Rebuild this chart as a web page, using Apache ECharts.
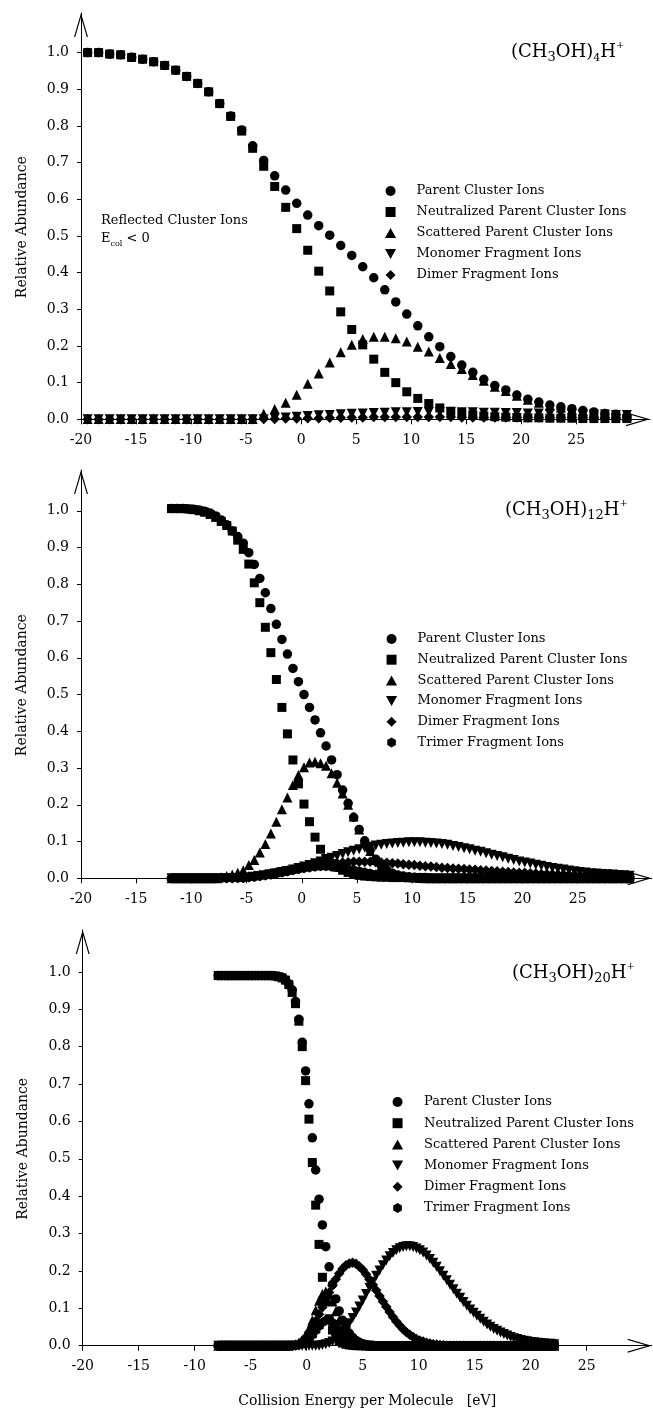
<!DOCTYPE html>
<html>
<head>
<meta charset="utf-8">
<title>(CH3OH)nH+ collision products</title>
<script src="https://cdn.jsdelivr.net/npm/echarts@6/dist/echarts.min.js"></script>
<style>
  html, body { margin: 0; padding: 0; background: #fff; }
  #chart { width: 653px; height: 1414px; }
</style>
</head>
<body>
<div id="chart"></div>
<script>
// series names, shared by the three panels
const seriesNames = [
    'Parent Cluster Ions',
    'Neutralized Parent Cluster Ions',
    'Scattered Parent Cluster Ions',
    'Monomer Fragment Ions',
    'Dimer Fragment Ions',
    'Trimer Fragment Ions'
]
const xTicks = [-20, -15, -10, -5, 0, 5, 10, 15, 20, 25]
const yTicks = [0, 0.1, 0.2, 0.3, 0.4, 0.5, 0.6, 0.7, 0.8, 0.9, 1.0]

// ---- (CH3OH)4H+ ----
const x1 = [-19.4, -18.4, -17.4, -16.4, -15.4, -14.4, -13.4, -12.4, -11.4, -10.4,
    -9.4, -8.4, -7.4, -6.4, -5.4, -4.4, -3.4, -2.4, -1.4, -0.4,
    0.6, 1.6, 2.6, 3.6, 4.6, 5.6, 6.6, 7.6, 8.6, 9.6,
    10.6, 11.6, 12.6, 13.6, 14.6, 15.6, 16.6, 17.6, 18.6, 19.6,
    20.6, 21.6, 22.6, 23.6, 24.6, 25.6, 26.6, 27.6, 28.6, 29.6]
const parent1 = [1.000, 1.000, 0.996, 0.994, 0.987, 0.982, 0.975, 0.965, 0.952, 0.935,
    0.916, 0.893, 0.861, 0.827, 0.789, 0.746, 0.706, 0.664, 0.625, 0.589,
    0.557, 0.528, 0.502, 0.474, 0.447, 0.416, 0.386, 0.353, 0.320, 0.287,
    0.255, 0.225, 0.198, 0.171, 0.148, 0.128, 0.109, 0.092, 0.080, 0.066,
    0.055, 0.047, 0.039, 0.034, 0.029, 0.024, 0.020, 0.016, 0.014, 0.009]
const neutral1 = [1.000, 1.000, 0.996, 0.994, 0.987, 0.982, 0.975, 0.965, 0.952, 0.935,
    0.916, 0.893, 0.861, 0.826, 0.786, 0.739, 0.690, 0.635, 0.578, 0.520,
    0.461, 0.404, 0.350, 0.293, 0.245, 0.203, 0.164, 0.128, 0.100, 0.075,
    0.057, 0.043, 0.031, 0.022, 0.016, 0.012, 0.009, 0.007, 0.006, 0.005,
    0.004, 0.004, 0.003, 0.003, 0.003, 0.002, 0.002, 0.002, 0.002, 0.002]
const scatter1 = [0.001, 0.001, 0.001, 0.001, 0.001, 0.001, 0.001, 0.001, 0.001, 0.001,
    0.001, 0.001, 0.001, 0.001, 0.001, 0.001, 0.015, 0.028, 0.045, 0.067,
    0.097, 0.125, 0.155, 0.183, 0.203, 0.219, 0.225, 0.225, 0.221, 0.212,
    0.198, 0.185, 0.167, 0.151, 0.137, 0.121, 0.105, 0.089, 0.077, 0.064,
    0.053, 0.045, 0.037, 0.032, 0.027, 0.022, 0.018, 0.015, 0.012, 0.008]
const mono1 = [0, 0, 0, 0, 0, 0, 0, 0, 0, 0,
    0, 0, 0, 0, 0, 0, 0, 0.003, 0.005, 0.007,
    0.009, 0.011, 0.012, 0.014, 0.015, 0.016, 0.017, 0.018, 0.019, 0.019,
    0.020, 0.020, 0.020, 0.020, 0.019, 0.019, 0.018, 0.018, 0.017, 0.017,
    0.016, 0.016, 0.015, 0.015, 0.014, 0.014, 0.013, 0.013, 0.012, 0.012]
const dimer1 = [0, 0, 0, 0, 0, 0, 0, 0, 0, 0,
    0, 0, 0, 0, 0, 0, 0.001, 0.001, 0.002, 0.002,
    0.003, 0.003, 0.004, 0.004, 0.005, 0.005, 0.006, 0.006, 0.006, 0.006,
    0.006, 0.006, 0.006, 0.006, 0.005, 0.005, 0.005, 0.005, 0.005, 0.005,
    0.005, 0.005, 0.005, 0.005, 0.005, 0.004, 0.004, 0.004, 0.004, 0.004]

// ---- (CH3OH)12H+ ----
const x2 = [-11.8, -11.3, -10.8, -10.3, -9.8, -9.3, -8.8, -8.3, -7.8, -7.3,
    -6.8, -6.3, -5.8, -5.3, -4.8, -4.3, -3.8, -3.3, -2.8, -2.3,
    -1.8, -1.3, -0.8, -0.3, 0.2, 0.7, 1.2, 1.7, 2.2, 2.7,
    3.2, 3.7, 4.2, 4.7, 5.2, 5.7, 6.2, 6.7, 7.2, 7.7,
    8.2, 8.7, 9.2, 9.7, 10.2, 10.7, 11.2, 11.7, 12.2, 12.7,
    13.2, 13.7, 14.2, 14.7, 15.2, 15.7, 16.2, 16.7, 17.2, 17.7,
    18.2, 18.7, 19.2, 19.7, 20.2, 20.7, 21.2, 21.7, 22.2, 22.7,
    23.2, 23.7, 24.2, 24.7, 25.2, 25.7, 26.2, 26.7, 27.2, 27.7,
    28.2, 28.7, 29.2, 29.7]
const parent2 = [1.006, 1.006, 1.006, 1.005, 1.004, 1.002, 0.999, 0.994, 0.986, 0.975,
    0.962, 0.945, 0.930, 0.912, 0.886, 0.854, 0.816, 0.777, 0.734, 0.691,
    0.650, 0.610, 0.571, 0.535, 0.500, 0.465, 0.431, 0.396, 0.360, 0.322,
    0.282, 0.240, 0.204, 0.166, 0.133, 0.102, 0.077, 0.052, 0.035, 0.022,
    0.014, 0.009, 0.006, 0.004, 0.003, 0.002, 0.002, 0.001, 0, 0,
    0, 0, 0, 0, 0, 0, 0, 0, 0, 0,
    0, 0, 0, 0, 0, 0, 0, 0, 0, 0,
    0, 0, 0, 0, 0, 0, 0, 0, 0, 0,
    0, 0, 0, 0]
const neutral2 = [1.006, 1.006, 1.006, 1.005, 1.003, 1.000, 0.996, 0.990, 0.982, 0.971,
    0.960, 0.945, 0.920, 0.895, 0.855, 0.804, 0.750, 0.683, 0.614, 0.541,
    0.465, 0.393, 0.322, 0.257, 0.202, 0.154, 0.112, 0.079, 0.054, 0.040,
    0.030, 0.022, 0.016, 0.011, 0.008, 0.006, 0.005, 0.004, 0.003, 0.003,
    0.002, 0.002, 0.002, 0.002, 0.002, 0.002, 0.001, 0.001, 0.001, 0.001,
    0.001, 0.001, 0.001, 0.001, 0.001, 0.001, 0.001, 0.001, 0.001, 0.001,
    0.001, 0.001, 0.001, 0.001, 0.001, 0.001, 0.001, 0.001, 0.001, 0.001,
    0.001, 0.001, 0.001, 0.001, 0.001, 0.001, 0.001, 0.001, 0.001, 0.001,
    0.001, 0.001, 0.001, 0.001]
const scatter2 = [0, 0, 0, 0, 0, 0, 0, 0, 0, 0.003,
    0.006, 0.010, 0.015, 0.022, 0.036, 0.050, 0.070, 0.093, 0.122, 0.154,
    0.188, 0.220, 0.254, 0.281, 0.302, 0.315, 0.317, 0.313, 0.306, 0.286,
    0.260, 0.231, 0.200, 0.168, 0.133, 0.100, 0.074, 0.050, 0.033, 0.021,
    0.013, 0.008, 0.005, 0.003, 0.002, 0.001, 0, 0, 0, 0,
    0, 0, 0, 0, 0, 0, 0, 0, 0, 0,
    0, 0, 0, 0, 0, 0, 0, 0, 0, 0,
    0, 0, 0, 0, 0, 0, 0, 0, 0, 0,
    0, 0, 0, 0]
const mono2 = [0, 0, 0, 0, 0, 0, 0, 0, 0, 0,
    0, 0, 0, 0, 0.002, 0.004, 0.006, 0.008, 0.011, 0.014,
    0.017, 0.020, 0.024, 0.028, 0.032, 0.036, 0.041, 0.046, 0.051, 0.056,
    0.061, 0.066, 0.071, 0.075, 0.079, 0.083, 0.086, 0.089, 0.091, 0.093,
    0.095, 0.096, 0.097, 0.098, 0.098, 0.098, 0.097, 0.096, 0.095, 0.093,
    0.091, 0.088, 0.085, 0.082, 0.079, 0.075, 0.072, 0.068, 0.064, 0.061,
    0.057, 0.053, 0.050, 0.046, 0.043, 0.040, 0.037, 0.034, 0.031, 0.028,
    0.026, 0.024, 0.021, 0.019, 0.017, 0.016, 0.014, 0.013, 0.012, 0.011,
    0.010, 0.009, 0.008, 0.007]
const dimer2 = [0, 0, 0, 0, 0, 0, 0, 0, 0, 0,
    0, 0, 0.002, 0.003, 0.005, 0.007, 0.009, 0.011, 0.014, 0.016,
    0.019, 0.021, 0.024, 0.026, 0.029, 0.031, 0.034, 0.036, 0.038, 0.040,
    0.041, 0.043, 0.044, 0.045, 0.045, 0.045, 0.045, 0.044, 0.043, 0.042,
    0.041, 0.040, 0.038, 0.037, 0.036, 0.034, 0.033, 0.032, 0.031, 0.029,
    0.028, 0.027, 0.026, 0.025, 0.024, 0.023, 0.022, 0.021, 0.020, 0.019,
    0.018, 0.017, 0.016, 0.015, 0.015, 0.014, 0.013, 0.012, 0.012, 0.011,
    0.010, 0.010, 0.009, 0.009, 0.008, 0.008, 0.007, 0.007, 0.006, 0.006,
    0.005, 0.005, 0.005, 0.004]
const trimer2 = [0, 0, 0, 0, 0, 0, 0, 0, 0, 0,
    0, 0, 0, 0, 0.002, 0.003, 0.005, 0.007, 0.009, 0.012,
    0.015, 0.018, 0.021, 0.024, 0.027, 0.029, 0.031, 0.032, 0.032, 0.031,
    0.030, 0.028, 0.026, 0.023, 0.020, 0.017, 0.014, 0.011, 0.009, 0.007,
    0.005, 0.004, 0.003, 0.002, 0.002, 0.001, 0, 0, 0, 0,
    0, 0, 0, 0, 0, 0, 0, 0, 0, 0,
    0, 0, 0, 0, 0, 0, 0, 0, 0, 0,
    0, 0, 0, 0, 0, 0, 0, 0, 0, 0,
    0, 0, 0, 0]

// ---- (CH3OH)20H+ ----
const x3 = [-7.9, -7.6, -7.3, -7.0, -6.7, -6.4, -6.1, -5.8, -5.5, -5.2,
    -4.9, -4.6, -4.3, -4.0, -3.7, -3.4, -3.1, -2.8, -2.5, -2.2,
    -1.9, -1.6, -1.3, -1.0, -0.7, -0.4, -0.1, 0.2, 0.5, 0.8,
    1.1, 1.4, 1.7, 2.0, 2.3, 2.6, 2.9, 3.2, 3.5, 3.8,
    4.1, 4.4, 4.7, 5.0, 5.3, 5.6, 5.9, 6.2, 6.5, 6.8,
    7.1, 7.4, 7.7, 8.0, 8.3, 8.6, 8.9, 9.2, 9.5, 9.8,
    10.1, 10.4, 10.7, 11.0, 11.3, 11.6, 11.9, 12.2, 12.5, 12.8,
    13.1, 13.4, 13.7, 14.0, 14.3, 14.6, 14.9, 15.2, 15.5, 15.8,
    16.1, 16.4, 16.7, 17.0, 17.3, 17.6, 17.9, 18.2, 18.5, 18.8,
    19.1, 19.4, 19.7, 20.0, 20.3, 20.6, 20.9, 21.2, 21.5, 21.8,
    22.1]
const parent3 = [0.990, 0.990, 0.990, 0.990, 0.990, 0.990, 0.990, 0.990, 0.990, 0.990,
    0.990, 0.990, 0.990, 0.990, 0.990, 0.990, 0.990, 0.989, 0.987, 0.984,
    0.978, 0.968, 0.952, 0.921, 0.873, 0.812, 0.735, 0.647, 0.556, 0.470,
    0.392, 0.323, 0.265, 0.211, 0.164, 0.125, 0.093, 0.068, 0.048, 0.033,
    0.022, 0.014, 0.009, 0.005, 0.003, 0.002, 0.001, 0, 0, 0,
    0, 0, 0, 0, 0, 0, 0, 0, 0, 0,
    0, 0, 0, 0, 0, 0, 0, 0, 0, 0,
    0, 0, 0, 0, 0, 0, 0, 0, 0, 0,
    0, 0, 0, 0, 0, 0, 0, 0, 0, 0,
    0, 0, 0, 0, 0, 0, 0, 0, 0, 0,
    0]
const neutral3 = [0.990, 0.990, 0.990, 0.990, 0.990, 0.990, 0.990, 0.990, 0.990, 0.990,
    0.990, 0.990, 0.990, 0.990, 0.990, 0.990, 0.990, 0.989, 0.987, 0.984,
    0.978, 0.966, 0.945, 0.915, 0.868, 0.800, 0.709, 0.606, 0.490, 0.376,
    0.271, 0.183, 0.118, 0.072, 0.042, 0.024, 0.013, 0.007, 0.004, 0.002,
    0.001, 0, 0, 0, 0, 0, 0, 0, 0, 0,
    0, 0, 0, 0, 0, 0, 0, 0, 0, 0,
    0, 0, 0, 0, 0, 0, 0, 0, 0, 0,
    0, 0, 0, 0, 0, 0, 0, 0, 0, 0,
    0, 0, 0, 0, 0, 0, 0, 0, 0, 0,
    0, 0, 0, 0, 0, 0, 0, 0, 0, 0,
    0]
const scatter3 = [0, 0, 0, 0, 0, 0, 0, 0, 0, 0,
    0, 0, 0, 0, 0, 0, 0, 0, 0, 0,
    0, 0, 0.002, 0.004, 0.008, 0.015, 0.027, 0.045, 0.068, 0.095,
    0.120, 0.138, 0.145, 0.138, 0.118, 0.092, 0.068, 0.048, 0.032, 0.021,
    0.013, 0.008, 0.005, 0.003, 0.001, 0, 0, 0, 0, 0,
    0, 0, 0, 0, 0, 0, 0, 0, 0, 0,
    0, 0, 0, 0, 0, 0, 0, 0, 0, 0,
    0, 0, 0, 0, 0, 0, 0, 0, 0, 0,
    0, 0, 0, 0, 0, 0, 0, 0, 0, 0,
    0, 0, 0, 0, 0, 0, 0, 0, 0, 0,
    0]
const mono3 = [0, 0, 0, 0, 0, 0, 0, 0, 0, 0,
    0, 0, 0, 0, 0, 0, 0, 0, 0, 0,
    0, 0, 0, 0, 0, 0, 0, 0, 0, 0,
    0, 0.002, 0.004, 0.007, 0.011, 0.017, 0.025, 0.035, 0.047, 0.060,
    0.074, 0.089, 0.105, 0.121, 0.138, 0.155, 0.171, 0.187, 0.201, 0.215,
    0.228, 0.239, 0.248, 0.255, 0.261, 0.264, 0.266, 0.266, 0.264, 0.260,
    0.255, 0.249, 0.241, 0.232, 0.222, 0.211, 0.199, 0.187, 0.175, 0.163,
    0.151, 0.139, 0.128, 0.117, 0.107, 0.097, 0.088, 0.080, 0.072, 0.064,
    0.057, 0.051, 0.045, 0.040, 0.035, 0.031, 0.027, 0.023, 0.020, 0.018,
    0.015, 0.013, 0.012, 0.010, 0.009, 0.008, 0.007, 0.006, 0.005, 0.005,
    0.004]
const dimer3 = [0, 0, 0, 0, 0, 0, 0, 0, 0, 0,
    0, 0, 0, 0, 0, 0, 0, 0, 0, 0,
    0, 0, 0, 0.002, 0.005, 0.012, 0.022, 0.035, 0.050, 0.066,
    0.084, 0.103, 0.122, 0.142, 0.161, 0.178, 0.193, 0.206, 0.215, 0.220,
    0.222, 0.219, 0.212, 0.203, 0.191, 0.177, 0.163, 0.148, 0.133, 0.118,
    0.104, 0.090, 0.077, 0.065, 0.054, 0.044, 0.036, 0.029, 0.023, 0.018,
    0.014, 0.011, 0.008, 0.006, 0.004, 0.003, 0.002, 0.001, 0, 0,
    0, 0, 0, 0, 0, 0, 0, 0, 0, 0,
    0, 0, 0, 0, 0, 0, 0, 0, 0, 0,
    0, 0, 0, 0, 0, 0, 0, 0, 0, 0,
    0]
const trimer3 = [0, 0, 0, 0, 0, 0, 0, 0, 0, 0,
    0, 0, 0, 0, 0, 0, 0, 0, 0, 0,
    0, 0, 0, 0, 0.002, 0.005, 0.010, 0.018, 0.028, 0.040,
    0.052, 0.062, 0.068, 0.068, 0.062, 0.052, 0.041, 0.031, 0.022, 0.015,
    0.010, 0.006, 0.004, 0.002, 0.001, 0, 0, 0, 0, 0,
    0, 0, 0, 0, 0, 0, 0, 0, 0, 0,
    0, 0, 0, 0, 0, 0, 0, 0, 0, 0,
    0, 0, 0, 0, 0, 0, 0, 0, 0, 0,
    0, 0, 0, 0, 0, 0, 0, 0, 0, 0,
    0, 0, 0, 0, 0, 0, 0, 0, 0, 0,
    0]

const font = 'DejaVu Serif'
// open chevron used as axis arrow head
const arrowPath = 'path://M0,24 L7,0 L14,24 L12.8,24 L7,4.2 L1.2,24 Z'
// all marks as paths so the legend keeps their aspect
const symbols = [
    'circle',
    'path://M0,0 L10,0 L10,10 L0,10 Z',
    'path://M5,0 L10,9 L0,9 Z',
    'path://M0,0 L10,0 L5,9 Z',
    'path://M5,0 L10,5 L5,10 L0,5 Z',
    'path://M5,0 L9.3,2.5 L9.3,7.5 L5,10 L0.7,7.5 L0.7,2.5 Z'
]
const symbolSizes = [9.5, 9, 10, 10, 10.5, 9.5]

const panels = [
    { x: x1, ys: [parent1, neutral1, scatter1, mono1, dimer1],
      grid: { left: 81, right: 3, top: 13, height: 406.3 }, xMax: 31.7, yMax: 1.108 },
    { x: x2, ys: [parent2, neutral2, scatter2, mono2, dimer2, trimer2],
      grid: { left: 81, right: 1.3, top: 470, height: 408.3 }, xMax: 31.7, yMax: 1.111 },
    { x: x3, ys: [parent3, neutral3, scatter3, mono3, dimer3, trimer3],
      grid: { left: 82.7, right: 1.3, top: 930, height: 415.7 }, xMax: 30.8, yMax: 1.112 }
]

function pairs(xs, ys) {
    return xs.map((x, i) => [x, ys[i]])
}

let myChart = echarts.init(document.getElementById('chart'), null, { renderer: 'canvas' })

let grids = [], xAxes = [], yAxes = [], series = []
panels.forEach((p, i) => {
    grids.push(Object.assign({ outerBoundsMode: 'none' }, p.grid))
    xAxes.push({
        type: 'value', gridIndex: i, min: -20, max: p.xMax,
        name: i === 2 ? 'Collision Energy per Molecule   [eV]' : '',
        nameLocation: 'middle', nameGap: 49,
        nameTextStyle: { fontFamily: font, fontSize: 14, color: '#000' },
        axisLine: {
            show: true, onZero: false,
            lineStyle: { color: '#000', width: 1 },
            symbol: ['none', arrowPath], symbolSize: [14, 24], symbolOffset: [0, -12]
        },
        axisTick: { show: true, length: 5, customValues: xTicks, lineStyle: { color: '#000' } },
        axisLabel: { customValues: xTicks, margin: 14, color: '#000', fontFamily: font, fontSize: 14 },
        splitLine: { show: false }
    })
    yAxes.push({
        type: 'value', gridIndex: i, min: 0, max: p.yMax,
        name: 'Relative Abundance', nameLocation: 'middle', nameGap: 52,
        nameTextStyle: { fontFamily: font, fontSize: 14, color: '#000', padding: [0, 22, 0, 0] },
        axisLine: {
            show: true, onZero: false,
            lineStyle: { color: '#000', width: 1 },
            symbol: ['none', arrowPath], symbolSize: [14, 24], symbolOffset: [0, -12]
        },
        axisTick: { show: true, length: 4, customValues: yTicks, lineStyle: { color: '#000' } },
        axisLabel: {
            customValues: yTicks, margin: 12, color: '#000', fontFamily: font, fontSize: 14,
            formatter: v => v.toFixed(1)
        },
        splitLine: { show: false }
    })
    p.ys.forEach((ys, k) => {
        series.push({
            name: seriesNames[k], type: 'scatter', xAxisIndex: i, yAxisIndex: i,
            symbol: symbols[k], symbolSize: symbolSizes[k], clip: false,
            itemStyle: { color: '#000', opacity: 1 },
            data: pairs(p.x, ys)
        })
    })
})

const plain = { fontFamily: font, fontWeight: 'normal', color: '#000' }
const formulaRich = {
    a: Object.assign({ fontSize: 18, lineHeight: 24 }, plain),
    s: Object.assign({ fontSize: 13, lineHeight: 13, verticalAlign: 'bottom' }, plain),
    t: Object.assign({ fontSize: 11, lineHeight: 11, verticalAlign: 'bottom' }, plain),
    p: Object.assign({ fontSize: 10, lineHeight: 10, verticalAlign: 'top' }, plain)
}
const noteRich = {
    a: Object.assign({ fontSize: 13, lineHeight: 18.6 }, plain),
    s: Object.assign({ fontSize: 8, lineHeight: 8, verticalAlign: 'bottom' }, plain)
}

function legendFor(names, left, top, itemWidth, gap) {
    return {
        orient: 'vertical', left: left, top: top, padding: 0,
        itemWidth: itemWidth, itemHeight: 10, itemGap: gap, symbolKeepAspect: true,
        selectedMode: false, data: names,
        itemStyle: { opacity: 1 },
        textStyle: { fontFamily: font, fontSize: 13, lineHeight: 14, color: '#000' }
    }
}

myChart.setOption({
    animation: false,
    backgroundColor: '#fff',
    textStyle: { fontFamily: font },
    title: [
        { text: '{a|(CH}{s|3}{a|OH)}{t|4}{a|H}{p|+}', left: 511, top: 40, padding: 0,
          textStyle: { fontWeight: 'normal', rich: formulaRich } },
        { text: '{a|(CH}{s|3}{a|OH)}{s|12}{a|H}{p|+}', left: 505, top: 498, padding: 0,
          textStyle: { fontWeight: 'normal', rich: formulaRich } },
        { text: '{a|(CH}{s|3}{a|OH)}{s|20}{a|H}{p|+}', left: 512, top: 961, padding: 0,
          textStyle: { fontWeight: 'normal', rich: formulaRich } },
        { text: '{a|Reflected Cluster Ions}\n{a|E}{s|col}{a| < 0}', left: 101, top: 211, padding: 0,
          textStyle: { fontWeight: 'normal', rich: noteRich } }
    ],
    legend: [
        legendFor(seriesNames.slice(0, 5), 385, 184, 42, 7),
        legendFor(seriesNames, 386, 632, 42, 6.7),
        legendFor(seriesNames, 392, 1095, 43, 7.2)
    ],
    grid: grids,
    xAxis: xAxes,
    yAxis: yAxes,
    series: series
})
</script>
</body>
</html>
